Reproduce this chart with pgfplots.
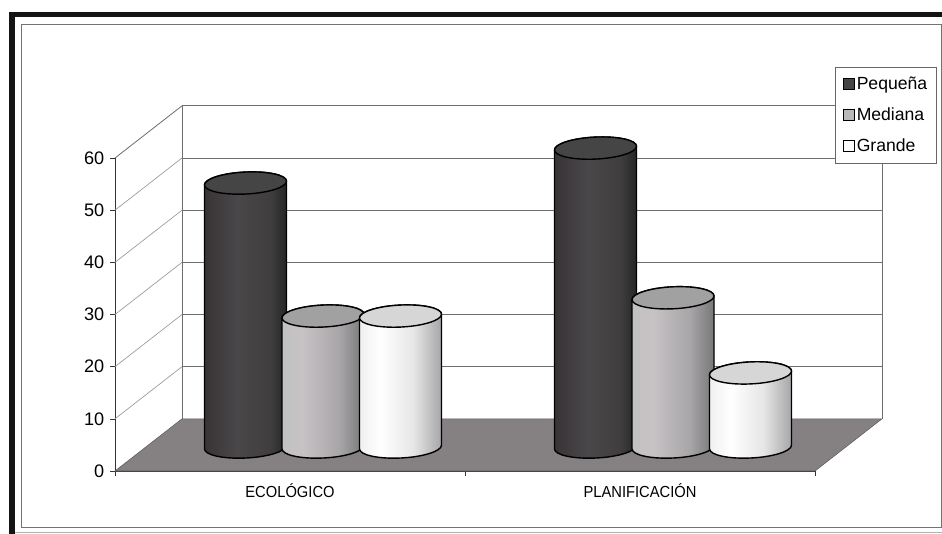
\documentclass[border=0pt]{standalone}
\usepackage{fontspec}
\setmainfont{Liberation Sans}
\newfontfamily\narrowlabel[FakeStretch=0.92]{Liberation Sans}
\usepackage{pgfplots}
\pgfplotsset{compat=1.18}

% Horizontal shadings for the cylinder bodies (visible range 25bp to 75bp)
\pgfdeclarehorizontalshading{cylpeq}{100bp}{rgb(0bp)=(.22,.20,.21); rgb(25bp)=(.22,.20,.21); rgb(45bp)=(.29,.28,.29); rgb(65bp)=(.25,.24,.24); rgb(75bp)=(.15,.15,.15); rgb(100bp)=(.15,.15,.15)}
\pgfdeclarehorizontalshading{cylmed}{100bp}{rgb(0bp)=(.76,.76,.76); rgb(25bp)=(.76,.76,.76); rgb(38bp)=(.78,.76,.77); rgb(60bp)=(.66,.65,.66); rgb(75bp)=(.47,.47,.47); rgb(100bp)=(.47,.47,.47)}
\pgfdeclarehorizontalshading{cylgra}{100bp}{rgb(0bp)=(.94,.94,.94); rgb(25bp)=(.94,.94,.94); rgb(38bp)=(1,1,1); rgb(58bp)=(.90,.90,.90); rgb(75bp)=(.65,.65,.66); rgb(100bp)=(.65,.65,.66)}

% Point of a cylinder in its own frame: set back into the chart's depth, slightly tilted
\def\cp#1#2{({#1+\cylo},{#2+24+0.045*(#1)})}
% A cylinder standing on the floor; its height follows the plotted value
\newcommand\declarecyl[4]{%
  \pgfdeclareplotmark{#1}{%
    \pgfmathsetmacro\cylh{\cylval*5.217}%
    \pgfmathsetmacro\cylo{33+#2}%
    \begin{scope}[x=0.75pt,y=0.75pt]
      \path[draw=black,line width=1.05pt,line join=round,shading=#3]
        \cp{-41}{0} -- \cp{-41}{-\cylh}
        .. controls \cp{-41}{-\cylh-6.08} and \cp{-22.6}{-\cylh-11} .. \cp{0}{-\cylh-11}
        .. controls \cp{22.6}{-\cylh-11} and \cp{41}{-\cylh-6.08} .. \cp{41}{-\cylh}
        -- \cp{41}{0}
        .. controls \cp{41}{6.08} and \cp{22.6}{11} .. \cp{0}{11}
        .. controls \cp{-22.6}{11} and \cp{-41}{6.08} .. \cp{-41}{0} -- cycle;
      \path[draw=black,line width=1.05pt,fill=#4]
        \cp{-41}{0}
        .. controls \cp{-41}{6.08} and \cp{-22.6}{11} .. \cp{0}{11}
        .. controls \cp{22.6}{11} and \cp{41}{6.08} .. \cp{41}{0}
        .. controls \cp{41}{-6.08} and \cp{22.6}{-11} .. \cp{0}{-11}
        .. controls \cp{-22.6}{-11} and \cp{-41}{-6.08} .. \cp{-41}{0} -- cycle;
    \end{scope}}}
\definecolor{toppeq}{gray}{.27}
\definecolor{topmed}{gray}{.63}
\definecolor{topgra}{gray}{.84}
\declarecyl{mpeq}{-77.5}{cylpeq}{toppeq}
\declarecyl{mmed}{0}{cylmed}{topmed}
\declarecyl{mgra}{77.5}{cylgra}{topgra}

\definecolor{floorgray}{HTML}{858182}
\definecolor{wallline}{HTML}{6E6E6E}
\definecolor{sideline}{HTML}{9A9A9A}

\begin{document}
\begin{tikzpicture}[x=0.75pt,y=-0.75pt]
  \useasboundingbox (0,0) rectangle (942,534);
  \fill[white] (0,0) rectangle (942,534);
  % page frame
  \fill[black!92] (9,12) rectangle (942,17);
  \fill[black!92] (9,12) rectangle (15,534);
  \draw[black!55,line width=0.6pt] (21,24.5) -- (941,24.5) -- (941,527) -- (21,527) -- cycle;
  \draw[black!30,line width=0.6pt] (15,532.5) -- (942,532.5);
  \begin{axis}[
    at={(86.25pt,-353.25pt)}, anchor=south west,
    scale only axis, width=525pt, height=234.75pt,
    xmin=0, xmax=2, ymin=0, ymax=60,
    clip=false,
    axis x line*=bottom, axis y line*=left,
    axis line style={-, black!80, line width=0.75pt},
    xtick={0,1,2}, xticklabels={},
    extra x ticks={0.5,1.5},
    extra x tick labels={ECOLÓGICO,PLANIFICACIÓN},
    extra x tick style={major tick length=0pt,
      tick label style={font=\narrowlabel\fontsize{12}{14}\selectfont, yshift=-6.2pt}},
    ytick={0,10,...,60},
    major tick length=3.5pt,
    tick style={black!80, line width=0.5pt},
    tick align=outside,
    y tick label style={font=\fontsize{13.6}{15}\selectfont, xshift=-1pt},
    /pgf/number format/assume math mode=true,
    legend style={at={(1.1743,1.2907)}, anchor=north east,
      draw=black!60, line width=0.5pt, fill=white,
      font=\fontsize{13.2}{15}\selectfont,
      row sep=8.9pt, inner xsep=5.5pt, inner ysep=5.6pt,
      nodes={inner sep=1.6pt}, cells={anchor=west}},
  ]
    % floor
    \addplot[fill=floorgray, draw=floorgray!70!black, line width=0.4pt, forget plot]
      coordinates {(0,0) (2,0) (2.1914,10) (0.1914,10)} -- cycle;
    % grid on the side wall and the back wall
    \addplot[sideline, line width=0.5pt, forget plot] coordinates {(0,10) (0.1914,20)};
    \addplot[sideline, line width=0.5pt, forget plot] coordinates {(0,20) (0.1914,30)};
    \addplot[sideline, line width=0.5pt, forget plot] coordinates {(0,30) (0.1914,40)};
    \addplot[sideline, line width=0.5pt, forget plot] coordinates {(0,40) (0.1914,50)};
    \addplot[sideline, line width=0.5pt, forget plot] coordinates {(0,50) (0.1914,60)};
    \addplot[wallline, line width=0.6pt, forget plot] coordinates {(0,60) (0.1914,70)};
    \addplot[wallline, line width=0.6pt, forget plot] coordinates {(0.1914,20) (2.1914,20)};
    \addplot[wallline, line width=0.6pt, forget plot] coordinates {(0.1914,30) (2.1914,30)};
    \addplot[wallline, line width=0.6pt, forget plot] coordinates {(0.1914,40) (2.1914,40)};
    \addplot[wallline, line width=0.6pt, forget plot] coordinates {(0.1914,50) (2.1914,50)};
    \addplot[wallline, line width=0.6pt, forget plot] coordinates {(0.1914,60) (2.1914,60)};
    \addplot[wallline, line width=0.6pt, forget plot] coordinates {(0.1914,10) (0.1914,70) (2.1914,70) (2.1914,10)};
    % the three size classes
    \addplot[scatter, only marks, mark=mpeq, visualization depends on={rawy \as \cylval},
      legend image code/.code={\draw[black,line width=.7pt,fill=toppeq] (0pt,-4pt) rectangle (8pt,4pt);}]
      coordinates {(0.5,50.6) (1.5,57.3)};
    \addlegendentry{Pequeña}
    \addplot[scatter, only marks, mark=mmed, visualization depends on={rawy \as \cylval},
      legend image code/.code={\draw[black,line width=.7pt,fill=black!28] (0pt,-4pt) rectangle (8pt,4pt);}]
      coordinates {(0.5,25.1) (1.5,28.6)};
    \addlegendentry{Mediana}
    \addplot[scatter, only marks, mark=mgra, visualization depends on={rawy \as \cylval},
      legend image code/.code={\draw[black,line width=.7pt,fill=white] (0pt,-4pt) rectangle (8pt,4pt);}]
      coordinates {(0.5,25.1) (1.5,14.2)};
    \addlegendentry{Grande}
  \end{axis}
\end{tikzpicture}
\end{document}
